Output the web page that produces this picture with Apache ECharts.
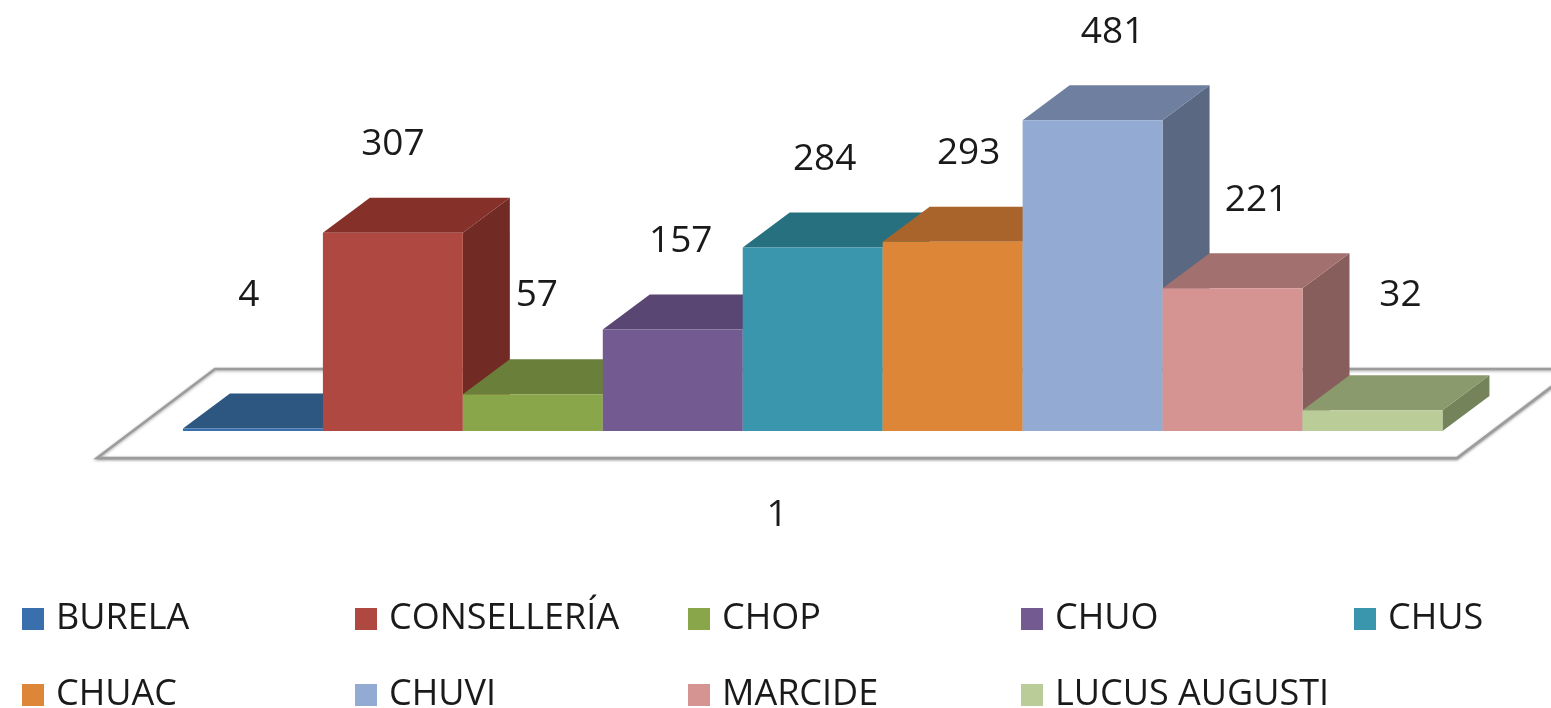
<!DOCTYPE html>
<html>
<head>
<meta charset="utf-8">
<script src="https://cdn.jsdelivr.net/npm/echarts@6/dist/echarts.min.js"></script>
<style>html,body{margin:0;padding:0;background:#fff}#c{width:1551px;height:708px}</style>
</head>
<body>
<div id="c"></div>
<script>
const categories = ['1'];
const seriesNames = ['BURELA', 'CONSELLERÍA', 'CHOP', 'CHUO', 'CHUS', 'CHUAC', 'CHUVI', 'MARCIDE', 'LUCUS AUGUSTI'];
const seriesValues = [4, 307, 57, 157, 284, 293, 481, 221, 32];
const frontColors = ['#3A6FAD', '#AE4840', '#8AA64B', '#735A91', '#3A96AD', '#DE8638', '#93ABD2', '#D59392', '#BACD98'];
const topColors   = ['#2D5680', '#86302A', '#6A7F39', '#5A4673', '#27707F', '#A8642A', '#6E7F9F', '#A2706E', '#8A9A6C'];
const sideColors  = ['#25476B', '#722A24', '#566A2E', '#4A3A5E', '#215F6C', '#8C5222', '#5B6882', '#875E5C', '#74835A'];

const FONT = '"Open Sans", "Liberation Sans", sans-serif';
const DX = 47, DY = -35;            // bar depth projection
const FDX = 118, FDY = -89;         // floor depth projection
const FRONT_MARGIN = 27;            // floor front edge below bar front bottom

const chart = echarts.init(document.getElementById('c'), null, {renderer: 'canvas'});

const floorSeries = {
  type: 'custom',
  name: '__floor',
  silent: true,
  z: 1,
  data: [[0, 0]],
  renderItem: function (params, api) {
    const base = api.coord([0, 0]);
    const bw = api.size([1, 0])[0];
    const yF = base[1] + FRONT_MARGIN;
    const xL = base[0] - bw / 2, xR = base[0] + bw / 2;
    return {
      type: 'polygon',
      shape: {points: [[xL, yF], [xR, yF], [xR + FDX, yF + FDY], [xL + FDX, yF + FDY]]},
      style: {fill: '#ffffff', stroke: '#9c9c9c', lineWidth: 2.5, shadowBlur: 3, shadowColor: 'rgba(0,0,0,0.35)', shadowOffsetY: 1}
    };
  }
};

const barSeries = seriesNames.map(function (name, i) {
  return {
    type: 'custom',
    name: name,
    z: 2 + i,
    itemStyle: {color: frontColors[i]},
    data: [[0, seriesValues[i], i]],
    renderItem: function (params, api) {
      const idx = api.value(2);
      const base = api.coord([0, 0]);
      const top = api.coord([0, api.value(1)]);
      const bw = api.size([1, 0])[0];
      const barW = bw * 0.1029;
      const groupLeft = base[0] - bw / 2 + bw * 0.0632;
      const x0 = groupLeft + idx * barW, x1 = x0 + barW;
      const y0 = base[1], y1 = top[1];
      const labelY = Math.min(y1 + DY - 53, base[1] - 136);
      const labelX = (x0 + x1) / 2 - 4 + idx * 4;
      return {
        type: 'group',
        children: [
          {type: 'polygon', shape: {points: [[x1, y0], [x1 + DX, y0 + DY], [x1 + DX, y1 + DY], [x1, y1]]}, style: {fill: sideColors[idx]}},
          {type: 'polygon', shape: {points: [[x0, y1], [x1, y1], [x1 + DX, y1 + DY], [x0 + DX, y1 + DY]]}, style: {fill: topColors[idx]}},
          {type: 'rect', shape: {x: x0, y: y1, width: barW, height: y0 - y1}, style: {fill: frontColors[idx]}},
          {type: 'text', z2: 100, style: {text: String(api.value(1)), x: labelX, y: labelY, align: 'center', verticalAlign: 'middle', font: '37px ' + FONT, fill: '#1a1a1a'}}
        ]
      };
    }
  };
});

const colX = [17, 350, 683, 1016, 1349];
const rowY = [596, 672];
const legends = seriesNames.map(function (name, i) {
  return {
    data: [name],
    left: colX[i % 5],
    top: rowY[Math.floor(i / 5)],
    itemWidth: 22,
    itemHeight: 22,
    icon: 'rect',
    selectedMode: false,
    textStyle: {fontSize: 36, fontFamily: FONT, color: '#1a1a1a', padding: [0, 0, 0, 7]}
  };
});

chart.setOption({
  animation: false,
  backgroundColor: '#ffffff',
  grid: {left: 97, right: 94, top: 108, bottom: 277},
  xAxis: {
    type: 'category',
    data: categories,
    axisLine: {show: false},
    axisTick: {show: false},
    axisLabel: {margin: 66, fontSize: 37, fontFamily: FONT, color: '#1a1a1a'}
  },
  yAxis: {type: 'value', min: 0, max: 500, show: false},
  legend: legends,
  series: [floorSeries].concat(barSeries)
});
</script>
</body>
</html>
